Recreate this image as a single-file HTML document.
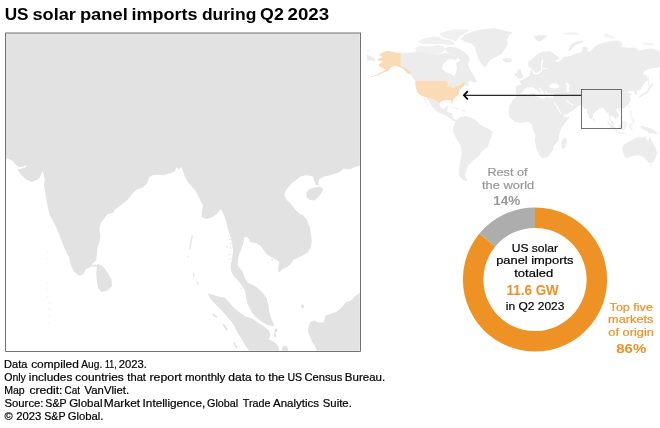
<!DOCTYPE html>
<html><head><meta charset="utf-8">
<style>
html,body{margin:0;padding:0;background:#fff;}
body{width:660px;height:428px;position:relative;overflow:hidden;font-family:"Liberation Sans",sans-serif;color:#000;}
#title{position:absolute;left:5px;top:5.5px;font-size:17px;font-weight:bold;white-space:nowrap;line-height:20px;letter-spacing:0.3px;}
#foot{position:absolute;left:5px;top:358px;font-size:11px;line-height:13px;white-space:nowrap;}
#foot span{display:block;}
svg{position:absolute;left:0;top:0;}
svg text{font-family:"Liberation Sans",sans-serif;}
</style></head><body>
<svg width="660" height="428" viewBox="0 0 660 428">
<defs><clipPath id="mc"><rect x="5.5" y="33" width="354.3" height="317.8"/></clipPath><clipPath id="bc"><rect x="581.5" y="89.5" width="40" height="39"/></clipPath></defs>
<g clip-path="url(#mc)"><path d="M5.5 33L360.5 33L360.5 165.6L355.1 166.9L348.8 169.4L343.5 168.4L340.4 171.5L336.2 173.6L329.9 175.3L323.6 176.8L319.4 178.9L318.3 182L318.9 185.2L316.2 185.2L314.1 181L313 176.8L309.9 175.7L305.7 175.3L300.4 176.8L296.2 179.9L292 183.1L288.9 186.7L285.7 190.4L284.3 195.1L286.8 199.9L291 204.1L295.2 209.4L300.4 214.6L303 215L307.2 220.6L310 227.6L311 234.6L311.8 240.9L310.7 247.3L307.9 252.2L303.7 255L298.1 257.8L293.1 259.9L291 264.1L286.8 266.9L282.6 269L279.1 272.5L278.1 270.4L278.7 264.8L279.5 262L276.3 259.9L272.8 257.8L270 256.4L266.7 254.1L263.6 249.9L260.4 245.7L256.2 243L251 242.5L249.3 239.4L246.7 236.7L244.2 237.3L243.6 242.5L241.5 248.8L239.2 254L238.4 257.5L237.5 265L240.3 268.7L243.1 272.5L244.9 278.1L247.8 282.8L252.4 284.6L257.1 287.4L261.8 292.1L266.5 297.7L268.3 304.3L269.3 311.8L271.1 318.3L274.2 324.9L273.5 326.5L266.5 324.5L260.9 321.1L255.2 316.4L251.5 311.8L247.8 304.3L245.9 296.8L244.9 290.2L241.2 284.6L237.5 279.9L233.7 276.2L230.9 270.6L230.9 263L232 259.4L233.1 251L232 242.5L229.9 235.2L227.8 228.9L226.2 221.5L223.6 214.2L221.1 208.9L217.3 213.5L212.1 217.3L206.8 219L201.6 216.9L201.6 213.1L203 205.8L199.5 198.4L196.3 192.1L195.6 190.4L191.4 186.2L187.2 181L184.5 175.7L183 170.5L180.9 166.9L178.8 169.4L176.7 167.3L174.6 171.5L169.4 173.6L163.1 175.3L157.8 174.7L152.5 175.3L148.8 177.8L147.3 183.1L143.1 187.3L136.8 189.4L132.6 193.6L127.3 199.9L121 205.2L114.7 209.4L113.7 212.5L107.4 214.6L104.2 218.8L100.4 223.4L99.4 229.7L100.4 236L99.4 242.3L97.3 248.6L96.8 253.9L96.2 260.2L93 263.3L89.9 267.5L85.7 269.6L83.6 273.8L79.4 276L74.1 271.7L71 265.4L68.9 257L64.7 248.6L60.5 238.1L56.9 228.7L53.1 221.3L49.5 215L48.8 211.5L46.7 201L45.2 192.5L44.1 185.2L44.6 178.9L43.7 174.7L42.7 171.1L41.4 173.6L39.9 177.4L36.8 180L31.5 182L26.3 179.5L21 174.7L17.2 169.8L20 169L24.8 167.7L27.3 164.8L23.1 166.7L18.9 166.9L15.8 164.8L12.6 161L9.5 159.3L5.5 157.9ZM91 265.5L95 264.5L97.5 265.2L97 267L94 266.5L91.5 267ZM97.3 263.8L102.5 266L107.2 272L111.6 279.6L112 286.5L107.5 290.6L101.5 292L98.3 288.6L96.8 280.2L96.2 272.8L96.8 267.5ZM306.3 192.5L309.9 188.8L315.2 187.3L320.4 186.7L323.1 188.8L321.5 193L318.3 197.2L314.1 200.5L309.9 199.9L306.7 197.2ZM207.8 293.4L212 294.4L218.3 296.5L224.6 297.6L228.8 301.8L233 307L239.4 312.3L245.7 316.5L252 318.6L258.3 322.8L264.6 327L268.8 330.2L270.5 335.4L268.8 339.6L274 341.7L278.2 345.9L279.3 351.5L249.4 351.5L245.7 345.9L241.5 338.6L237.3 332.3L233 323.8L227.8 317.5L221.5 310.2L215.2 303.9L209.9 298.6ZM360.5 292.1L355.1 296.3L350.9 300.5L345.6 302.6L341.4 307.8L336.2 312L329.9 314.1L325.7 315.2L323.6 322.5L318.3 322.5L314.1 320.4L310.9 321.5L308.9 325.7L307.8 331L309.9 336.2L312 341.5L315.2 346.7L317.3 351.5L360.5 351.5ZM281.4 351.5L282.6 346.7L285.5 345.5L287.7 347.5L288.2 351.5ZM212 313.5L214.5 314.2L217.5 316.5L217 317.8L214 316.5ZM222.3 323.5L224.5 324.5L227.5 328.5L228 330.5L226 330L223.5 326.5ZM233 341.5L235 343L237.5 347.5L236.5 348.5L234.5 346ZM196.3 280.8L197.6 281.5L198.6 285L197.4 284.6ZM191.8 235L192.9 235.4L191.4 243L190.3 250L189.2 249.6L190.2 242ZM193 273L194.2 273L194.4 277L193.2 277ZM301.2 305L303.3 304.6L304.2 307L302.8 308.8L301.2 307.5ZM271.3 259L272.6 259L272.8 261.3L271.5 261.5ZM274.5 329L277 328.5L277.5 331L275.5 333L276.5 336L275 338L273.8 335L274.8 332Z" fill="#e2e2e2"/><circle cx="229.8" cy="239.6" r="0.75" fill="#e2e2e2"/><circle cx="230.7" cy="243.4" r="0.75" fill="#e2e2e2"/><circle cx="227" cy="247.1" r="0.75" fill="#e2e2e2"/><circle cx="230.2" cy="248" r="0.75" fill="#e2e2e2"/><circle cx="229.4" cy="254.6" r="0.75" fill="#e2e2e2"/><circle cx="229.8" cy="259.3" r="0.75" fill="#e2e2e2"/><circle cx="231.7" cy="263.9" r="0.75" fill="#e2e2e2"/><circle cx="241" cy="288.2" r="0.75" fill="#e2e2e2"/><circle cx="188.3" cy="256.5" r="0.75" fill="#e2e2e2"/><circle cx="47.5" cy="252" r="0.7" fill="#f0f0f0"/><circle cx="48" cy="258" r="0.7" fill="#f0f0f0"/><circle cx="47.6" cy="264" r="0.7" fill="#f0f0f0"/><circle cx="46.8" cy="283" r="0.7" fill="#f0f0f0"/><circle cx="47.2" cy="290" r="0.7" fill="#f0f0f0"/><circle cx="47.6" cy="297" r="0.7" fill="#f0f0f0"/><circle cx="48.2" cy="303" r="0.7" fill="#f0f0f0"/><circle cx="48.6" cy="309" r="0.7" fill="#f0f0f0"/><circle cx="48.4" cy="316" r="0.7" fill="#f0f0f0"/><circle cx="48.8" cy="323" r="0.7" fill="#f0f0f0"/><circle cx="50.5" cy="303" r="0.7" fill="#f0f0f0"/><circle cx="50.8" cy="310" r="0.7" fill="#f0f0f0"/></g>
<path d="M5.5 33V351.5H360.5V33" fill="none" stroke="#727272" stroke-width="1"/>
<path d="M5 33H361" fill="none" stroke="#727272" stroke-width="1"/>
<path d="M367.1 50.2L370.7 50.4L370.5 51.5L367.1 51.4ZM563.6 33L570 32.2L579 32.8L578 34.8L570 35L564.5 34.8ZM603.3 34.3L606.8 32.9L609.6 35L613.1 36.4L615.2 38.5L612.4 39.2L608.2 37.5L604.7 36.4ZM642.6 43L647 42.5L654.5 43.5L654 45.5L648 45L643 44.8ZM423 97.2L424.5 97.6L427 101.5L429.3 105.8L428.4 106L425.5 102L423.5 99ZM450.8 107.3L454 106.7L457.5 107.8L459.7 109.2L456.5 109.2L453.5 108.2ZM461.3 110L463.5 109.7L465.9 110.6L465 111.8L462 111.6ZM647.6 75.7L648.8 75.7L649.2 80L649 85.5L648 85.5L648 80ZM658.7 71.5L660 70.5L660 80.5L659 78ZM628.3 105.3L629.7 105L629.9 107.5L628.8 108.4ZM629.6 110.3L631.5 110.5L631.9 114L633 116.6L631 116.4L629.8 114ZM631 117.5L633 117.3L634.8 119.5L634.5 122.9L632.5 122.5L631.5 120ZM621.5 121L624.5 120.5L627.4 122.5L626.5 126.5L624.5 130L621.8 130.5L619.5 128.5L619 125L620 122.5ZM606.4 119.2L608.5 119.8L612 123.5L615.5 127.5L617.8 131L616.5 131.8L613 129L609.5 125L607 121.8ZM616.2 131.6L620 131.5L626.5 133L626.3 134.3L620 133.6L616.4 133ZM629.2 123.5L633.5 123.6L632.5 125.5L631 126.5L633.3 130.8L631.5 131.4L630 128.5L629 126.5ZM649.7 164.3L652 164.2L651.8 166.5L650.5 167.2Z" fill="#f3f3f3"/>
<path d="M414.8 48L419.7 45.6L425.8 46.2L431.8 46.2L437.9 45L443.9 46.2L445.2 49.2L442.7 52.2L438.5 54.1L434.2 55.3L429.4 54.1L424.5 53.5L419.7 52.2L416.1 50.4ZM417.3 41.9L422.1 38.9L428.2 37.7L433 36.5L439.1 37.1L443.9 39.5L450 40.1L454.8 42.5L453.6 45L446.4 45L440.3 43.8L434.2 44.4L428.2 43.8L422.1 43.8ZM439.7 33.5L446.4 31L453.6 29.8L462.1 29.2L469.4 29.8L467 32.2L462.1 34.7L458.5 37.7L456.1 41.3L451.2 39.5L445.2 38.3L440.9 35.9Z" fill="#f0f0f0"/>
<path d="M400.8 52.7L407 52.8L414 52.4L417.5 50.7L424.5 52.8L431.5 54.2L438.5 54.5L444.7 52.8L448.2 56.3L447.3 60.6L442.9 64.2L442 68.5L445.5 72L450.8 73.8L454.3 76.4L456 72.9L456.9 67.7L456 63.3L460.4 60.6L464.8 62.4L468.3 65L470 69.4L472.7 73.8L475.3 78.2L477.1 81.7L473.6 82.5L470 80.8L467.4 82.5L469.2 85.2L465.7 86L463.9 84L463 81.9L460.4 84.5L456 86.3L452.5 88L450.8 86.3L447.3 86.3L448.2 82.8L446.4 81L415.4 81L413 78L410.2 73.8L409.7 72L407.5 70.2L405.3 68.4L403 67.2L400.8 66.6ZM444.7 52.8L450 54L454 55.5L457.5 57.5L456 60L452 59L448.5 59.5L447.3 58ZM445.2 48L450 46.8L456.1 47.4L460.9 49.8L465.2 52.8L468.8 56.5L470 60.1L468.2 63.2L465.2 64.4L462.1 62.5L460.3 60.1L457.9 57.7L454.2 55.3L450 54.1L446.4 51.6ZM460.6 38.9L465.2 34.4L472.7 31.4L483.3 29.1L495.5 28.3L504.5 30.6L512.9 32.4L509.1 35.2L506.8 39.7L508.3 44.2L505.3 48.8L502.3 53.3L497 56.4L490.9 59.4L487.9 63.2L485.6 67L481.8 64.7L478.8 59.4L476.5 53.3L475 47.3L471.2 43.5L465.2 42ZM502.3 59.4L506.1 57.9L510.6 58.6L512.1 60.6L509.1 62.4L504.5 62.1ZM533.3 36.4L539.4 34.8L546.2 35.2L547 37L543.2 38.9L540.9 41.2L537.9 41.5L535.6 39.4ZM568.6 50.5L569.6 46.5L573 43L578 41L583 40.6L583.4 42.6L579 43.4L575 45.4L572 48.6L570.6 51ZM367.1 54.6L369.3 55.5L372.9 57.3L375.5 59.5L374.6 61.3L372 60.9L369.3 60.4L367.1 60ZM422.8 96.8L426.3 97.6L430.6 104.6L435 109.9L440.3 113.4L444.7 115.1L448.2 116.9L451.7 119.5L454.3 121.3L456.9 120.5L457 119.5L455.5 119.8L453.5 118.7L452.4 116.5L452 113.6L449 112.3L446.6 111.5L447.6 109.5L448 106.3L445.5 106.6L444 108.8L441.5 108.5L439.9 105.5L439.4 103.4L436.8 101.2L434.2 98.9L431.5 99.4L428.9 97.7L424.5 97.1ZM456.9 119.5L460.4 116.9L465.7 116L471.8 117.8L477.1 121.3L481.4 125.6L487.6 128.3L492.8 131.8L491.1 137.9L489.5 141L488.4 144.9L487.8 147L482.5 150.5L479 155.8L474.7 159.3L471.2 162.8L467.7 166.3L466.8 170.6L465 174.2L465.9 177.7L467.7 180.3L466.8 181.2L462.4 179.4L458.9 175L458.9 168L460.6 159.3L461.6 152.8L460.4 145.8L456.9 139.7L453.4 132.7L453.4 126.5L455.2 122.1ZM512.8 99.9L509.3 106L508.4 113L510.1 117.4L514.5 121.8L521.5 122.7L528.5 121.8L532 124.4L532.9 129.7L535.5 135.8L534.7 141L536.4 148L539 155L542.5 158.2L547.8 156.8L552.2 151.5L553.9 145.4L558.3 141L559.2 134.9L560.9 128.8L565.3 122.7L569.7 117.4L563.6 116.5L560.9 113L557.4 106.9L553.9 101.6L553 98.1L549 97.5L546 97L544 98.6L541 98.3L538 96.8L535 96.5L535.5 94.5L534.6 92.8L530 94.3L522 94.6L517.5 95.3ZM562.7 139.3L565.5 137.6L567.1 141L564.4 148.9L561.8 148.5L561.6 143ZM552.8 98.3L554.2 93.2L562 92.5L569 96L581.5 101L581.5 104.5L577.5 106.5L574 109.5L568.5 113.3L563 115.3L561.5 113.8L558 108L555 103.2ZM515.9 92.2L515.9 86L521.5 84.3L518.9 80.8L522.4 79.9L525 78.2L529.4 75.9L530.4 71L531.6 70.2L531 68.3L528.2 65.9L528.5 61.5L532.6 58.6L536.4 54.8L542.4 51.8L550 51.1L552.2 52.8L557.4 56.3L560 58.9L554.8 60.6L557.4 62.4L561.8 59.8L563.6 57L569 56.2L572 55.5L575 53.8L579 52.6L581.6 52.6L582 47.6L584.5 46.2L587.5 47.5L588 52L590 51.5L592 49.5L595 46.2L598.5 44.5L602.4 43.2L607 41.8L611.5 40.9L617 40.5L620.6 41.6L622.9 44.7L620.8 46.6L626.7 47.7L635.8 47.7L638.8 50.7L644.8 49.2L651 48.5L660 50.7L660 67.3L653.1 68L647.5 69.4L644 71.5L643.3 74.3L646.1 75L647.5 78.5L647.9 80L645 82.2L642.3 86.4L640.2 89.9L636.6 90.6L637.3 94.8L635.2 94.8L634.5 92L632.4 90.6L628.9 91.3L628 92.8L632.4 94.1L629.6 95.5L631 99L629.6 102.5L627.5 105.3L624.7 107.5L621.5 109.1L621.5 89.5L581.5 89.5L581.5 101L569 96L562 92.5L554.2 93.2L550 93.3L546.8 92.6L545.8 90.2L544.6 94.2L542.8 91L540 88.5L537.5 86.6L539 89L541.6 91.4L540.4 93L537.5 90.5L534.5 88L532.4 87.2L527 87.4L524.3 89L522.1 92.6L520 94L517.3 94.6ZM517.8 69.6L520.6 69.2L521.2 72L522.6 75.3L522.6 78L518.8 78.6L516.6 77.6L518 75.8L515.6 76.2L515 73.6L517.2 72.6ZM514.8 73.6L516.6 73.2L516.8 75.5L515.5 76.4L514.6 75.5ZM652.1 83.2L653.5 84.5L651 87L649 90.8L646 94L642.3 96L639.8 97.8L638.8 96.5L641.6 94.2L645.1 92.4L647.9 89.5L650 85.5ZM640.6 126.2L643.5 126L648 127.5L653 129.5L658 133.5L656 134L651.5 132.8L649.5 133.5L646 130.5L642 129L640.8 127.8ZM622.2 147.4L624.8 143.9L630 141.3L634.4 138.6L638.8 136.9L643.2 137.8L644.9 136L646.7 139.5L648.4 141.3L649.7 135.7L651.9 141.3L655.4 147.4L657.2 152.7L655.4 158.8L651.9 163.2L648.4 162.3L645.8 159.7L642.3 156.2L637.1 154.9L631.8 156.2L627.4 158.4L624.8 157L623 151.8Z" fill="#ececec"/>
<path d="M548.7 85.5L552 83.5L556 83.6L559.2 85.5L558.5 88L554 88.7L550 87.8ZM565.8 82.5L568.5 83L569.7 86L568.8 89L569.5 92L567 92.2L566.2 89L566.8 86L565.3 84Z" fill="#fff"/>
<path d="M554.2 102.3L557.6 107.5L561.2 113.8M566.4 100.3L569.5 103L573.2 105.3" fill="none" stroke="#fff" stroke-width="1.1"/>
<path d="M532.6 70.2L534 73.6L538 73.4L541.3 70.8L541.8 66L542 62L543 59.6" fill="none" stroke="#fff" stroke-width="1.5" stroke-linejoin="round"/><path d="M542.5 68.6L548 68.4" fill="none" stroke="#fff" stroke-width="0.8"/>
<path d="M400.8 52.7L395.1 52.4L390.6 51.5L387.5 50.9L384.9 51.5L382.2 52.4L380.9 53.8L378.6 55.1L380.9 56L382.6 56.9L379.5 58.2L377.3 59.5L378.6 60.4L381.7 60.9L383.1 61.7L381.3 62.6L379.5 64L378.6 65.7L379.5 66.6L383.5 68.4L386.2 69.5L381.7 72L377.3 74.2L372.9 75.9L367.5 77.4L372.9 76.8L378.2 75.1L383.5 72.8L388.8 70.6L390.6 67.8L392.4 66.4L395.1 65.7L400.8 67.4L403.3 68.9L405.3 71.1L407.1 73.3L409.3 74.3L411 73L410 71.6L407.9 69.8L405.6 68L403.2 66.8L400.8 66.4ZM415.4 81L446.4 81L448.2 82.8L447.3 86.3L450.8 86.3L452.5 88L456 86.3L460.4 84.5L463 81.9L465.1 83.6L463.9 86.3L461.3 88L459.5 90.6L458.7 94.2L456 96.8L453.4 99.4L452.5 102L453.4 104.7L451.7 102.9L450.8 100.3L447.3 99.9L443.8 100.6L441.2 101.2L439.4 103.4L436.8 101.2L434.2 98.9L431.5 99.4L428.9 97.7L424.5 97.1L420.1 95L417.5 92.4L416.1 88.9L415.4 84.5Z" fill="#fbdbb5"/>
<rect x="581.5" y="89.5" width="40" height="39" fill="#fff"/>
<g clip-path="url(#bc)"><rect x="581" y="89" width="41" height="4" fill="#ececec"/><path transform="matrix(0.12180 0 0 0.11200 581.100 88.640)" d="M5.5 33L360.5 33L360.5 165.6L355.1 166.9L348.8 169.4L343.5 168.4L340.4 171.5L336.2 173.6L329.9 175.3L323.6 176.8L319.4 178.9L318.3 182L318.9 185.2L316.2 185.2L314.1 181L313 176.8L309.9 175.7L305.7 175.3L300.4 176.8L296.2 179.9L292 183.1L288.9 186.7L285.7 190.4L284.3 195.1L286.8 199.9L291 204.1L295.2 209.4L300.4 214.6L303 215L307.2 220.6L310 227.6L311 234.6L311.8 240.9L310.7 247.3L307.9 252.2L303.7 255L298.1 257.8L293.1 259.9L291 264.1L286.8 266.9L282.6 269L279.1 272.5L278.1 270.4L278.7 264.8L279.5 262L276.3 259.9L272.8 257.8L270 256.4L266.7 254.1L263.6 249.9L260.4 245.7L256.2 243L251 242.5L249.3 239.4L246.7 236.7L244.2 237.3L243.6 242.5L241.5 248.8L239.2 254L238.4 257.5L237.5 265L240.3 268.7L243.1 272.5L244.9 278.1L247.8 282.8L252.4 284.6L257.1 287.4L261.8 292.1L266.5 297.7L268.3 304.3L269.3 311.8L271.1 318.3L274.2 324.9L273.5 326.5L266.5 324.5L260.9 321.1L255.2 316.4L251.5 311.8L247.8 304.3L245.9 296.8L244.9 290.2L241.2 284.6L237.5 279.9L233.7 276.2L230.9 270.6L230.9 263L232 259.4L233.1 251L232 242.5L229.9 235.2L227.8 228.9L226.2 221.5L223.6 214.2L221.1 208.9L217.3 213.5L212.1 217.3L206.8 219L201.6 216.9L201.6 213.1L203 205.8L199.5 198.4L196.3 192.1L195.6 190.4L191.4 186.2L187.2 181L184.5 175.7L183 170.5L180.9 166.9L178.8 169.4L176.7 167.3L174.6 171.5L169.4 173.6L163.1 175.3L157.8 174.7L152.5 175.3L148.8 177.8L147.3 183.1L143.1 187.3L136.8 189.4L132.6 193.6L127.3 199.9L121 205.2L114.7 209.4L113.7 212.5L107.4 214.6L104.2 218.8L100.4 223.4L99.4 229.7L100.4 236L99.4 242.3L97.3 248.6L96.8 253.9L96.2 260.2L93 263.3L89.9 267.5L85.7 269.6L83.6 273.8L79.4 276L74.1 271.7L71 265.4L68.9 257L64.7 248.6L60.5 238.1L56.9 228.7L53.1 221.3L49.5 215L48.8 211.5L46.7 201L45.2 192.5L44.1 185.2L44.6 178.9L43.7 174.7L42.7 171.1L41.4 173.6L39.9 177.4L36.8 180L31.5 182L26.3 179.5L21 174.7L17.2 169.8L20 169L24.8 167.7L27.3 164.8L23.1 166.7L18.9 166.9L15.8 164.8L12.6 161L9.5 159.3L5.5 157.9ZM91 265.5L95 264.5L97.5 265.2L97 267L94 266.5L91.5 267ZM97.3 263.8L102.5 266L107.2 272L111.6 279.6L112 286.5L107.5 290.6L101.5 292L98.3 288.6L96.8 280.2L96.2 272.8L96.8 267.5ZM306.3 192.5L309.9 188.8L315.2 187.3L320.4 186.7L323.1 188.8L321.5 193L318.3 197.2L314.1 200.5L309.9 199.9L306.7 197.2ZM207.8 293.4L212 294.4L218.3 296.5L224.6 297.6L228.8 301.8L233 307L239.4 312.3L245.7 316.5L252 318.6L258.3 322.8L264.6 327L268.8 330.2L270.5 335.4L268.8 339.6L274 341.7L278.2 345.9L279.3 351.5L249.4 351.5L245.7 345.9L241.5 338.6L237.3 332.3L233 323.8L227.8 317.5L221.5 310.2L215.2 303.9L209.9 298.6ZM360.5 292.1L355.1 296.3L350.9 300.5L345.6 302.6L341.4 307.8L336.2 312L329.9 314.1L325.7 315.2L323.6 322.5L318.3 322.5L314.1 320.4L310.9 321.5L308.9 325.7L307.8 331L309.9 336.2L312 341.5L315.2 346.7L317.3 351.5L360.5 351.5ZM281.4 351.5L282.6 346.7L285.5 345.5L287.7 347.5L288.2 351.5ZM212 313.5L214.5 314.2L217.5 316.5L217 317.8L214 316.5ZM222.3 323.5L224.5 324.5L227.5 328.5L228 330.5L226 330L223.5 326.5ZM233 341.5L235 343L237.5 347.5L236.5 348.5L234.5 346ZM196.3 280.8L197.6 281.5L198.6 285L197.4 284.6ZM191.8 235L192.9 235.4L191.4 243L190.3 250L189.2 249.6L190.2 242ZM193 273L194.2 273L194.4 277L193.2 277ZM301.2 305L303.3 304.6L304.2 307L302.8 308.8L301.2 307.5ZM271.3 259L272.6 259L272.8 261.3L271.5 261.5ZM274.5 329L277 328.5L277.5 331L275.5 333L276.5 336L275 338L273.8 335L274.8 332Z" fill="#ececec"/></g>
<rect x="581.5" y="89.5" width="40" height="39" fill="none" stroke="#303030" stroke-width="0.68"/>
<path d="M581.5 95.3H464" fill="none" stroke="#2a2a2a" stroke-width="1.3"/>
<path d="M467.8 91.2L463.9 95.3L467.8 99.4" fill="none" stroke="#000" stroke-width="1.7"/>
<path d="M535.00 207.40A72.1 72.1 0 1 1 479.45 233.54L495.24 246.61A51.6 51.6 0 1 0 535.00 227.90Z" fill="#ee9225"/><path d="M479.45 233.54A72.1 72.1 0 0 1 535.00 207.40L535.00 227.90A51.6 51.6 0 0 0 495.24 246.61Z" fill="#adadad"/>
<text y="310.75" font-size="11.5" fill="#ee9225" stroke="#ee9225" stroke-width="0.2"><tspan x="609.63" textLength="43.24" lengthAdjust="spacingAndGlyphs">Top five</tspan></text>
<text y="323.3" font-size="11.5" fill="#ee9225" stroke="#ee9225" stroke-width="0.2"><tspan x="608.07" textLength="45.38" lengthAdjust="spacingAndGlyphs">markets</tspan></text>
<text y="335.8" font-size="11.5" fill="#ee9225" stroke="#ee9225" stroke-width="0.2"><tspan x="608.34" textLength="45.54" lengthAdjust="spacingAndGlyphs">of origin</tspan></text>
<text y="352.5" font-size="12.5" font-weight="bold" fill="#ee9225"><tspan x="616.3" textLength="29.88" lengthAdjust="spacingAndGlyphs">86%</tspan></text>
<text y="175.65" font-size="11.5" fill="#989898" stroke="#989898" stroke-width="0.2"><tspan x="487.4" textLength="40.24" lengthAdjust="spacingAndGlyphs">Rest of</tspan></text>
<text y="188.55" font-size="11.5" fill="#989898" stroke="#989898" stroke-width="0.2"><tspan x="481.96" textLength="52.33" lengthAdjust="spacingAndGlyphs">the world</tspan></text>
<text y="204.5" font-size="12.5" font-weight="bold" fill="#989898"><tspan x="493.29" textLength="27.05" lengthAdjust="spacingAndGlyphs">14%</tspan></text>
<text y="251.7" font-size="11.5" fill="#000" stroke="#000" stroke-width="0.2"><tspan x="511.68" textLength="46.37" lengthAdjust="spacingAndGlyphs">US solar</tspan></text>
<text y="263.9" font-size="11.5" fill="#000" stroke="#000" stroke-width="0.2"><tspan x="496.16" textLength="77.36" lengthAdjust="spacingAndGlyphs">panel imports</tspan></text>
<text y="276.8" font-size="11.5" fill="#000" stroke="#000" stroke-width="0.2"><tspan x="514.26" textLength="39.02" lengthAdjust="spacingAndGlyphs">totaled</tspan></text>
<text y="294.55" font-size="14" font-weight="bold" fill="#ee9225"><tspan x="506.56" textLength="52.23" lengthAdjust="spacingAndGlyphs">11.6 GW</tspan></text>
<text y="310.4" font-size="11.5" fill="#000" stroke="#000" stroke-width="0.2"><tspan x="505.82" textLength="58.62" lengthAdjust="spacingAndGlyphs">in Q2 2023</tspan></text>
<text y="20.4" font-size="17.2" font-weight="bold" fill="#000"><tspan x="4.7" textLength="23.89" lengthAdjust="spacingAndGlyphs">US</tspan> <tspan x="32.44" textLength="43.49" lengthAdjust="spacingAndGlyphs">solar</tspan> <tspan x="79.9" textLength="47.95" lengthAdjust="spacingAndGlyphs">panel</tspan> <tspan x="131.49" textLength="66.1" lengthAdjust="spacingAndGlyphs">imports</tspan> <tspan x="201.94" textLength="54.38" lengthAdjust="spacingAndGlyphs">during</tspan> <tspan x="260.13" textLength="23.68" lengthAdjust="spacingAndGlyphs">Q2</tspan> <tspan x="287.52" textLength="41.56" lengthAdjust="spacingAndGlyphs">2023</tspan></text>
<text y="368" font-size="10.8" fill="#000" stroke="#000" stroke-width="0.2"><tspan x="4.11" textLength="23.33" lengthAdjust="spacingAndGlyphs">Data</tspan> <tspan x="31.15" textLength="47.64" lengthAdjust="spacingAndGlyphs">compiled</tspan> <tspan x="81.3" textLength="20.91" lengthAdjust="spacingAndGlyphs">Aug.</tspan> <tspan x="105.09" textLength="11.49" lengthAdjust="spacingAndGlyphs">11,</tspan> <tspan x="118.68" textLength="28.2" lengthAdjust="spacingAndGlyphs">2023.</tspan></text>
<text y="380.85" font-size="10.8" fill="#000" stroke="#000" stroke-width="0.2"><tspan x="4.21" textLength="21.66" lengthAdjust="spacingAndGlyphs">Only</tspan> <tspan x="28.88" textLength="43.54" lengthAdjust="spacingAndGlyphs">includes</tspan> <tspan x="75.25" textLength="48.54" lengthAdjust="spacingAndGlyphs">countries</tspan> <tspan x="127.37" textLength="18.57" lengthAdjust="spacingAndGlyphs">that</tspan> <tspan x="149.44" textLength="32.37" lengthAdjust="spacingAndGlyphs">report</tspan> <tspan x="185" textLength="40.37" lengthAdjust="spacingAndGlyphs">monthly</tspan> <tspan x="228.24" textLength="23.48" lengthAdjust="spacingAndGlyphs">data</tspan> <tspan x="255.36" textLength="9.9" lengthAdjust="spacingAndGlyphs">to</tspan> <tspan x="268.16" textLength="16.61" lengthAdjust="spacingAndGlyphs">the</tspan> <tspan x="287.44" textLength="14.75" lengthAdjust="spacingAndGlyphs">US</tspan> <tspan x="304.48" textLength="37.89" lengthAdjust="spacingAndGlyphs">Census</tspan> <tspan x="344.87" textLength="40.35" lengthAdjust="spacingAndGlyphs">Bureau.</tspan></text>
<text y="393.7" font-size="10.8" fill="#000" stroke="#000" stroke-width="0.2"><tspan x="4.14" textLength="20.56" lengthAdjust="spacingAndGlyphs">Map</tspan> <tspan x="29.44" textLength="33.02" lengthAdjust="spacingAndGlyphs">credit:</tspan> <tspan x="64.54" textLength="15.52" lengthAdjust="spacingAndGlyphs">Cat</tspan> <tspan x="84.57" textLength="44.53" lengthAdjust="spacingAndGlyphs">VanVliet.</tspan></text>
<text y="406.6" font-size="10.8" fill="#000" stroke="#000" stroke-width="0.2"><tspan x="4.48" textLength="39.04" lengthAdjust="spacingAndGlyphs">Source:</tspan> <tspan x="45.31" textLength="21.08" lengthAdjust="spacingAndGlyphs">S&amp;P</tspan> <tspan x="69.17" textLength="33.3" lengthAdjust="spacingAndGlyphs">Global</tspan> <tspan x="103.73" textLength="36.4" lengthAdjust="spacingAndGlyphs">Market</tspan> <tspan x="142.61" textLength="62.68" lengthAdjust="spacingAndGlyphs">Intelligence,</tspan> <tspan x="207" textLength="31.22" lengthAdjust="spacingAndGlyphs">Global</tspan> <tspan x="242.75" textLength="27.68" lengthAdjust="spacingAndGlyphs">Trade</tspan> <tspan x="273" textLength="46.07" lengthAdjust="spacingAndGlyphs">Analytics</tspan> <tspan x="322.77" textLength="29.06" lengthAdjust="spacingAndGlyphs">Suite.</tspan></text>
<text y="419.5" font-size="10.8" fill="#000" stroke="#000" stroke-width="0.2"><tspan x="4.57" textLength="8.15" lengthAdjust="spacingAndGlyphs">©</tspan> <tspan x="16.18" textLength="25.18" lengthAdjust="spacingAndGlyphs">2023</tspan> <tspan x="44.21" textLength="21.08" lengthAdjust="spacingAndGlyphs">S&amp;P</tspan> <tspan x="67.78" textLength="35.73" lengthAdjust="spacingAndGlyphs">Global.</tspan></text>
</svg>
</body></html>
